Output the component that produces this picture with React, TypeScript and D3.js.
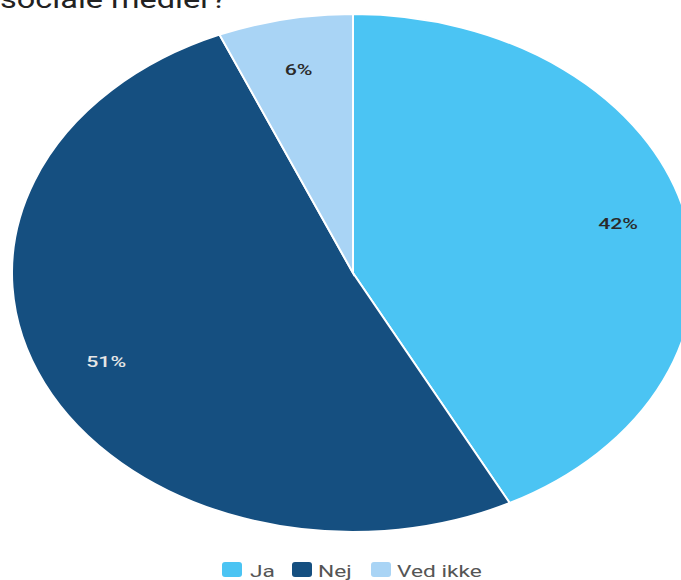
import React from "react";
import * as d3 from "d3";

const categories = ["Ja", "Nej", "Ved ikke"];
const values = [42.4, 51.2, 6.4];
const labels = ["42%", "51%", "6%"];
const colors = ["#4BC4F3", "#154F80", "#A9D4F5"];
const labelColors = ["#2a2a2a", "#e6e6e6", "#2a2a2a"];

export default function App() {
  const W = 681, H = 580;
  const cx = 353, cy = 273, rx = 341, ry = 259;
  const sx = rx / ry;
  const tx = 1.42;
  const pie = d3.pie<number>().sort(null).startAngle(0).endAngle(2 * Math.PI);
  const arcs = pie(values);
  const arc = d3.arc<d3.PieArcDatum<number>>().innerRadius(0).outerRadius(ry);
  const lblArc = d3.arc<d3.PieArcDatum<number>>().innerRadius(ry * 0.8).outerRadius(ry * 0.8);

  const legendX = [222, 292, 371];
  const legendTextX = [250, 318, 397];

  return (
    <svg width={W} height={H} style={{ position: "absolute", left: 0, top: 0, fontFamily: "Roboto, sans-serif" }}>
      <rect width={W} height={H} fill="#fff" />
      <text transform={`translate(0,8) scale(1.3,1)`} fontSize={25} fill="#222" fontWeight={400}>sociale medier?</text>
      <g transform={`translate(${cx},${cy}) scale(${sx},1)`}>
        {arcs.map((a, i) => (
          <path key={i} d={arc(a) || ""} fill={colors[i]} stroke="#fff" strokeWidth={2} vectorEffect="non-scaling-stroke" />
        ))}
      </g>
      {arcs.map((a, i) => {
        const [x, y] = lblArc.centroid(a);
        return (
          <text key={i} transform={`translate(${cx + x * sx},${cy + y}) scale(${tx},1)`} textAnchor="middle" dominantBaseline="central" fontSize={15} fill={labelColors[i]} fontWeight={500}>
            {labels[i]}
          </text>
        );
      })}
      {categories.map((c, i) => (
        <g key={c}>
          <rect x={legendX[i]} y={562} width={20} height={15} rx={3} fill={colors[i]} />
          <text transform={`translate(${legendTextX[i]},577) scale(${tx},1)`} fontSize={16} fill="#555" fontWeight={400}>{c}</text>
        </g>
      ))}
    </svg>
  );
}
